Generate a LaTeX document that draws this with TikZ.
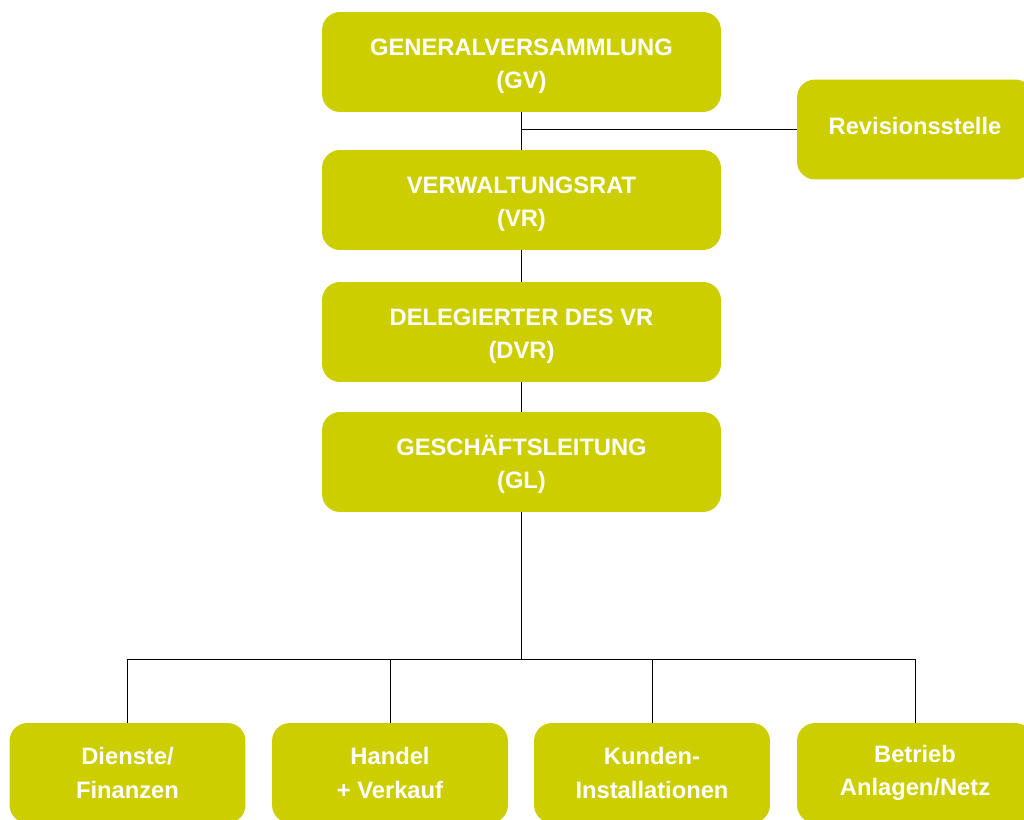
\documentclass[tikz,border=0pt]{standalone}
\usepackage{fontspec}
\setmainfont{Liberation Sans}
\usetikzlibrary{positioning}
\definecolor{orgyellow}{RGB}{205,206,0}
\newcommand{\orgtop}{\rule{0pt}{16pt}}
\newcommand{\orgbot}{\rule[-4.6pt]{0pt}{4.6pt}}
\tikzset{
  basebox/.style={rectangle,rounded corners=0.36cm,fill=orgyellow,text=white,
    font=\bfseries\fontsize{13.5}{19}\selectfont,align=center,
    minimum height=2cm,inner sep=0pt},
  orgbox/.style={basebox,minimum width=7.98cm},
  subbox/.style={basebox,minimum width=4.72cm},
  orgline/.style={draw=black,line width=0.5pt}
}

\begin{document}
\begin{tikzpicture}[x=0.02cm,y=-0.02cm]
\useasboundingbox (0,0) rectangle (1024,820);
\fill[white] (0,0) rectangle (1024,820);
\clip (0,0) rectangle (1024,820);

% main chain
\node[orgbox] (gv) at (521.5,62) {\orgtop GENERALVERSAMMLUNG\\(GV)\orgbot};
\node[orgbox] (vr) at (521.5,200) {\orgtop VERWALTUNGSRAT\\(VR)\orgbot};
\node[orgbox] (dvr) at (521.5,332) {\orgtop DELEGIERTER DES VR\\(DVR)\orgbot};
\node[orgbox] (gl) at (521.5,462) {\orgtop GESCHÄFTSLEITUNG\\(GL)\orgbot};
\node[subbox] (rev) at (915,129.5) {\rule[-4.6pt]{0pt}{4.6pt}Revisionsstelle};

% departments
\node[subbox] (dienste) at (127.5,773) {Dienste/\\Finanzen};
\node[subbox] (handel) at (390,773) {Handel\\+ Verkauf};
\node[subbox] (kunden) at (652,773) {Kunden-\\Installationen};
\node[subbox] (betrieb) at (915,773) {Betrieb\\Anlagen/Netz};
\coordinate (bus) at (521.5,659);

\draw[orgline] (gv.south) -- (vr.north);
\draw[orgline] (gv.south |- rev.west) -- (rev.west);
\draw[orgline] (vr.south) -- (dvr.north);
\draw[orgline] (dvr.south) -- (gl.north);
\draw[orgline] (gl.south) -- (bus);
\draw[orgline] (dienste.north) |- (betrieb.north |- bus) -- (betrieb.north);
\draw[orgline] (handel.north) -- (handel.north |- bus);
\draw[orgline] (kunden.north) -- (kunden.north |- bus);

\end{tikzpicture}
\end{document}
